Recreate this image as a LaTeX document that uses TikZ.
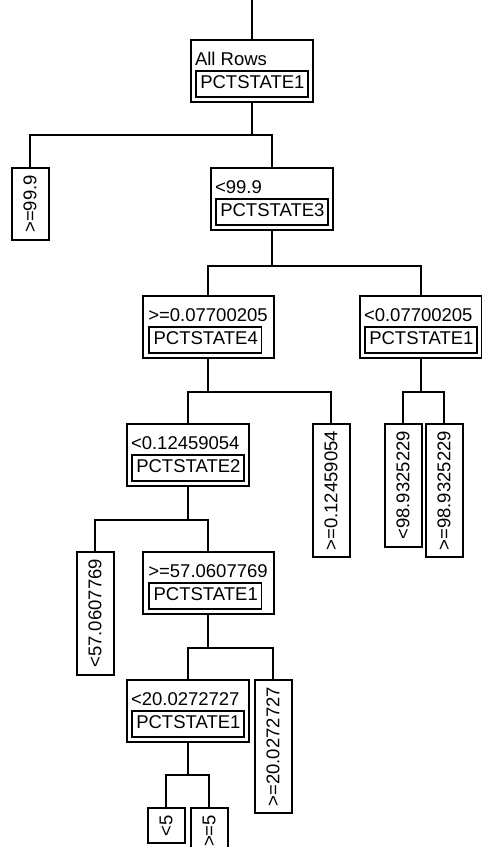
\documentclass[tikz,border=0pt]{standalone}
\usepackage{fontspec}
\setmainfont{Liberation Sans}
\usetikzlibrary{positioning}

\setlength{\fboxrule}{1.8pt}
\setlength{\fboxsep}{1.5pt}
\newcommand{\varbox}[1]{\fbox{\makebox[107.4pt][l]{\strut\hspace{2pt}#1}}}
\newcommand{\splittext}[2]{\rule{0pt}{21pt}#1\\[2pt]\varbox{#2}}

\begin{document}
\begin{tikzpicture}[
            x=1pt, y=1pt,
            line width=2pt,
            splitbox/.style={
                draw,
                anchor=north,
                minimum width=122pt,
                minimum height=62pt,
                inner xsep=4pt,
                inner ysep=0pt,
                align=left,
                font=\fontsize{18.5}{21}\selectfont
            },
            wide/.style={minimum width=131pt},
            leafbox/.style={
                draw,
                rotate=90,
                anchor=east,
                minimum height=37pt,
                inner xsep=7pt,
                font=\fontsize{18.5}{21}\selectfont
            }
        ]
        \useasboundingbox (0,0) rectangle (482,-847);

        % split nodes
        \coordinate (top) at (252,0);
        \node[splitbox] (root) at (252,-39) {\splittext{All Rows}{PCTSTATE1}};
        \node[splitbox] (n2) at (272,-167) {\splittext{<99.9}{PCTSTATE3}};
        \node[splitbox, wide] (n3) at (208,-295) {\splittext{>=0.07700205}{PCTSTATE4}};
        \node[splitbox] (n4) at (421,-295) {\splittext{<0.07700205}{PCTSTATE1}};
        \node[splitbox] (n5) at (188,-423) {\splittext{<0.12459054}{PCTSTATE2}};
        \node[splitbox, wide] (n6) at (208,-551) {\splittext{>=57.0607769}{PCTSTATE1}};
        \node[splitbox] (n7) at (188,-679) {\splittext{<20.0272727}{PCTSTATE1}};

        % leaves
        \node[leafbox] (l1) at (30,-167) {>=99.9};
        \node[leafbox] (l2) at (331,-423) {>=0.12459054};
        \node[leafbox] (l3) at (403,-423) {<98.9325229};
        \node[leafbox] (l4) at (444,-423) {>=98.9325229};
        \node[leafbox] (l5) at (95,-551) {<57.0607769};
        \node[leafbox] (l6) at (273,-679) {>=20.0272727};
        \node[leafbox] (l7) at (166,-807) {<5};
        \node[leafbox] (l8) at (209,-807) {>=5};

        % branch points
        \coordinate[below=32pt of root] (b1);
        \coordinate[below=35pt of n2] (b2);
        \coordinate[below=33pt of n3] (b3);
        \coordinate[below=33pt of n4] (b4);
        \coordinate[below=33pt of n5] (b5);
        \coordinate[below=33pt of n6] (b6);
        \coordinate[below=32pt of n7] (b7);

        \draw (top) -- (root);
        \draw (root) -- (b1);
        \draw (l1.east) |- (b1) -| (n2.north);
        \draw (n2) -- (b2);
        \draw (n3.north) |- (b2) -| (n4.north);
        \draw (n3) -- (b3);
        \draw (n5.north) |- (b3) -| (l2.east);
        \draw (n4) -- (b4);
        \draw (l3.east) |- (b4) -| (l4.east);
        \draw (n5) -- (b5);
        \draw (l5.east) |- (b5) -| (n6.north);
        \draw (n6) -- (b6);
        \draw (n7.north) |- (b6) -| (l6.east);
        \draw (n7) -- (b7);
        \draw (l7.east) |- (b7) -| (l8.east);

        \end{tikzpicture}
\end{document}
